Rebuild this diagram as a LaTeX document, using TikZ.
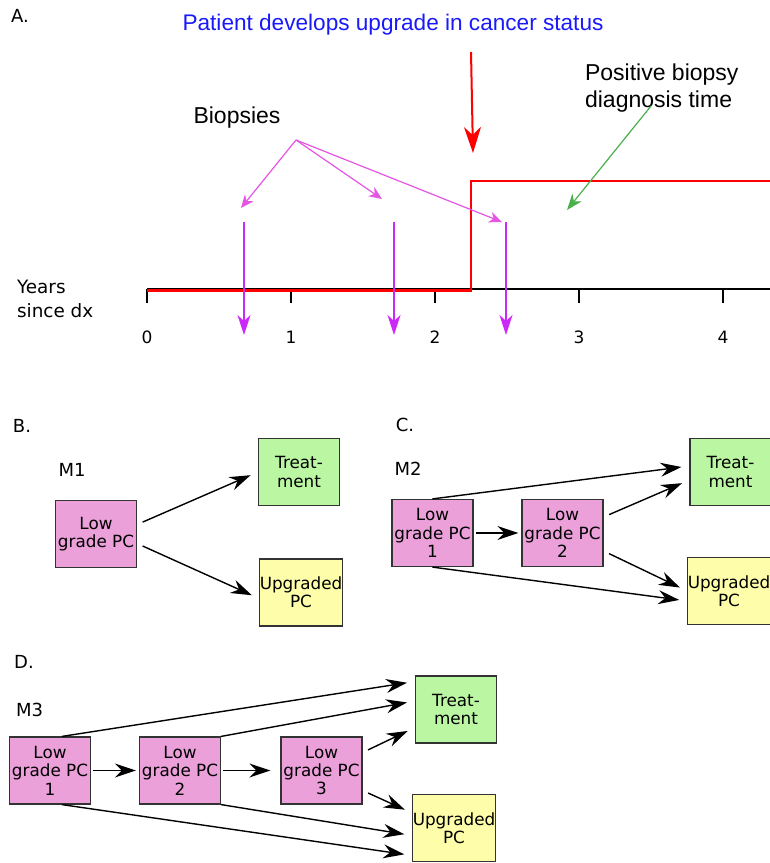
\documentclass[tikz,border=0pt]{standalone}
\usepackage{fontspec}
\setmainfont{DejaVu Sans}
\newfontfamily\arialfont{Liberation Sans}
\usetikzlibrary{arrows.meta}

\definecolor{boxpink}{RGB}{235,160,218}
\definecolor{boxgreen}{RGB}{187,247,163}
\definecolor{boxyellow}{RGB}{253,253,170}
\definecolor{biopsymag}{RGB}{228,85,228}
\definecolor{arrowmag}{RGB}{205,40,250}
\definecolor{diaggreen}{RGB}{75,175,75}
\definecolor{upblue}{RGB}{25,25,250}

\tikzset{
  state/.style={draw=black!80, line width=0.6pt, minimum width=40.5pt, minimum height=33.5pt,
    align=center, inner sep=0pt, font=\fontsize{8.4}{9.2}\selectfont},
  lowpc/.style={state, fill=boxpink},
  treat/.style={state, fill=boxgreen},
  upgr/.style={state, fill=boxyellow},
  trans/.style={-{Stealth[length=10.5pt,width=7pt,inset=3.5pt]}, line width=0.7pt, shorten >=4pt, shorten <=3pt},
  panel/.style={font=\fontsize{9}{10}\selectfont},
  biglabel/.style={font=\arialfont\fontsize{11.5}{13.5}\selectfont}
}

\begin{document}
\begin{tikzpicture}[x=0.5pt, y=-0.5pt]
  \useasboundingbox (0,0) rectangle (770,863);

  % Panel A: timeline
  \node[panel] (labA) at (20,16) {A.};
  \node[biglabel, text=upblue, font=\arialfont\fontsize{11.3}{13}\selectfont] (upgrade) at (393,25) {Patient develops upgrade in cancer status};
  \node[biglabel] (biopsies) at (237,118) {Biopsies};
  \node[biglabel, anchor=west, align=left] (posdx) at (578,88.5) {Positive biopsy\\diagnosis time};
  \node[anchor=west, align=left, font=\fontsize{9.2}{12}\selectfont] (years) at (10,299) {Years\\since dx};

  % Axis and ticks
  \draw[line width=1pt] (147,289) -- (770,289);
  \foreach \t in {0,...,4} {
    \draw[line width=1pt] (147+144*\t,289) -- (147+144*\t,303);
    \node[font=\fontsize{8.5}{10}\selectfont] (tick\t) at (147+144*\t,337) {\t};
  }

  % Cancer status step
  \draw[red, line width=1.2pt] (147,290.5) -- (471,290.5) -- (471,181) -- (770,181);
  \coordinate (upstart) at (471,52);
  \coordinate (upend) at (473,153);
  \draw[red, line width=1pt, -{Stealth[length=13pt,width=8.5pt,inset=4pt]}] (upstart) -- (upend);

  % Biopsy pointers
  \coordinate (bsrc) at (296,140);
  \coordinate (bp1) at (241,208);
  \coordinate (bp2) at (382,199);
  \coordinate (bp3) at (502,222);
  \foreach \p in {bp1,bp2,bp3}
    \draw[biopsymag, line width=0.6pt, -{Stealth[length=6.5pt,width=5.5pt,inset=2pt]}] (bsrc) -- (\p);

  % Biopsy times
  \foreach \bx in {244,394,506}
    \draw[arrowmag, line width=0.9pt, -{Stealth[length=10pt,width=6.5pt,inset=3pt]}] (\bx,222) -- (\bx,335);

  % Diagnosis pointer
  \coordinate (gsrc) at (651,106);
  \coordinate (gend) at (567,210);
  \draw[diaggreen, line width=0.6pt, -{Stealth[length=8pt,width=6pt,inset=2.5pt]}] (gsrc) -- (gend);

  % Panel B: model M1
  \node[panel] (labB) at (22,426) {B.};
  \node[panel] (m1) at (72,470) {M1};
  \node[lowpc] (b1) at (96,534) {Low\\grade PC};
  \node[treat] (bt) at (299,472) {Treat-\\ment};
  \node[upgr] (bu) at (301,592.5) {Upgraded\\PC};
  \draw[trans] ([yshift=4.75pt]b1.east) -- (bt.west);
  \draw[trans] ([yshift=-4.75pt]b1.east) -- ([yshift=-3pt]bu.west);

  % Panel C: model M2
  \node[panel] (labC) at (405,425) {C.};
  \node[panel] (m2) at (408,469) {M2};
  \node[lowpc] (c1) at (432.5,533) {Low\\grade PC\\1};
  \node[lowpc] (c2) at (562.5,533) {Low\\grade PC\\2};
  \node[treat] (ct) at (730.5,472) {Treat-\\ment};
  \node[upgr] (cu) at (729,591) {Upgraded\\PC};
  \draw[trans, shorten <=0pt] (c1.north) -- ([yshift=3pt]ct.west);
  \draw[trans, shorten <=1pt, shorten >=1.5pt] (c1.east) -- (c2.west);
  \draw[trans] ([yshift=8pt]c2.east) -- ([yshift=-4pt]ct.west);
  \draw[trans] ([yshift=-9pt]c2.east) -- (cu.west);
  \draw[trans, shorten <=0pt] (c1.south) -- ([yshift=-5pt]cu.west);

  % Panel D: model M3
  \node[panel] (labD) at (24,662) {D.};
  \node[panel] (m3) at (29.5,710) {M3};
  \node[lowpc] (d1) at (50,770.5) {Low\\grade PC\\1};
  \node[lowpc] (d2) at (180,770.5) {Low\\grade PC\\2};
  \node[lowpc] (d3) at (321.5,770.5) {Low\\grade PC\\3};
  \node[treat] (dt) at (456,709.5) {Treat-\\ment};
  \node[upgr] (du) at (454,828) {Upgraded\\PC};
  \draw[trans, shorten <=0pt] ([xshift=6pt]d1.north) -- ([yshift=14pt]dt.west);
  \draw[trans, shorten <=0pt] (d2.north east) -- ([yshift=4.25pt]dt.west);
  \draw[trans] ([yshift=9pt]d3.east) -- ([yshift=-9pt]dt.west);
  \draw[trans, shorten <=1pt, shorten >=1.5pt] (d1.east) -- (d2.west);
  \draw[trans, shorten <=1pt, shorten >=5pt] (d2.east) -- (d3.west);
  \draw[trans] ([yshift=-10pt]d3.east) -- ([yshift=7.5pt]du.west);
  \draw[trans, shorten <=0pt] (d2.south east) -- ([yshift=-3.75pt]du.west);
  \draw[trans, shorten <=0pt] ([xshift=6pt]d1.south) -- ([yshift=-13.75pt]du.west);
\end{tikzpicture}
\end{document}
